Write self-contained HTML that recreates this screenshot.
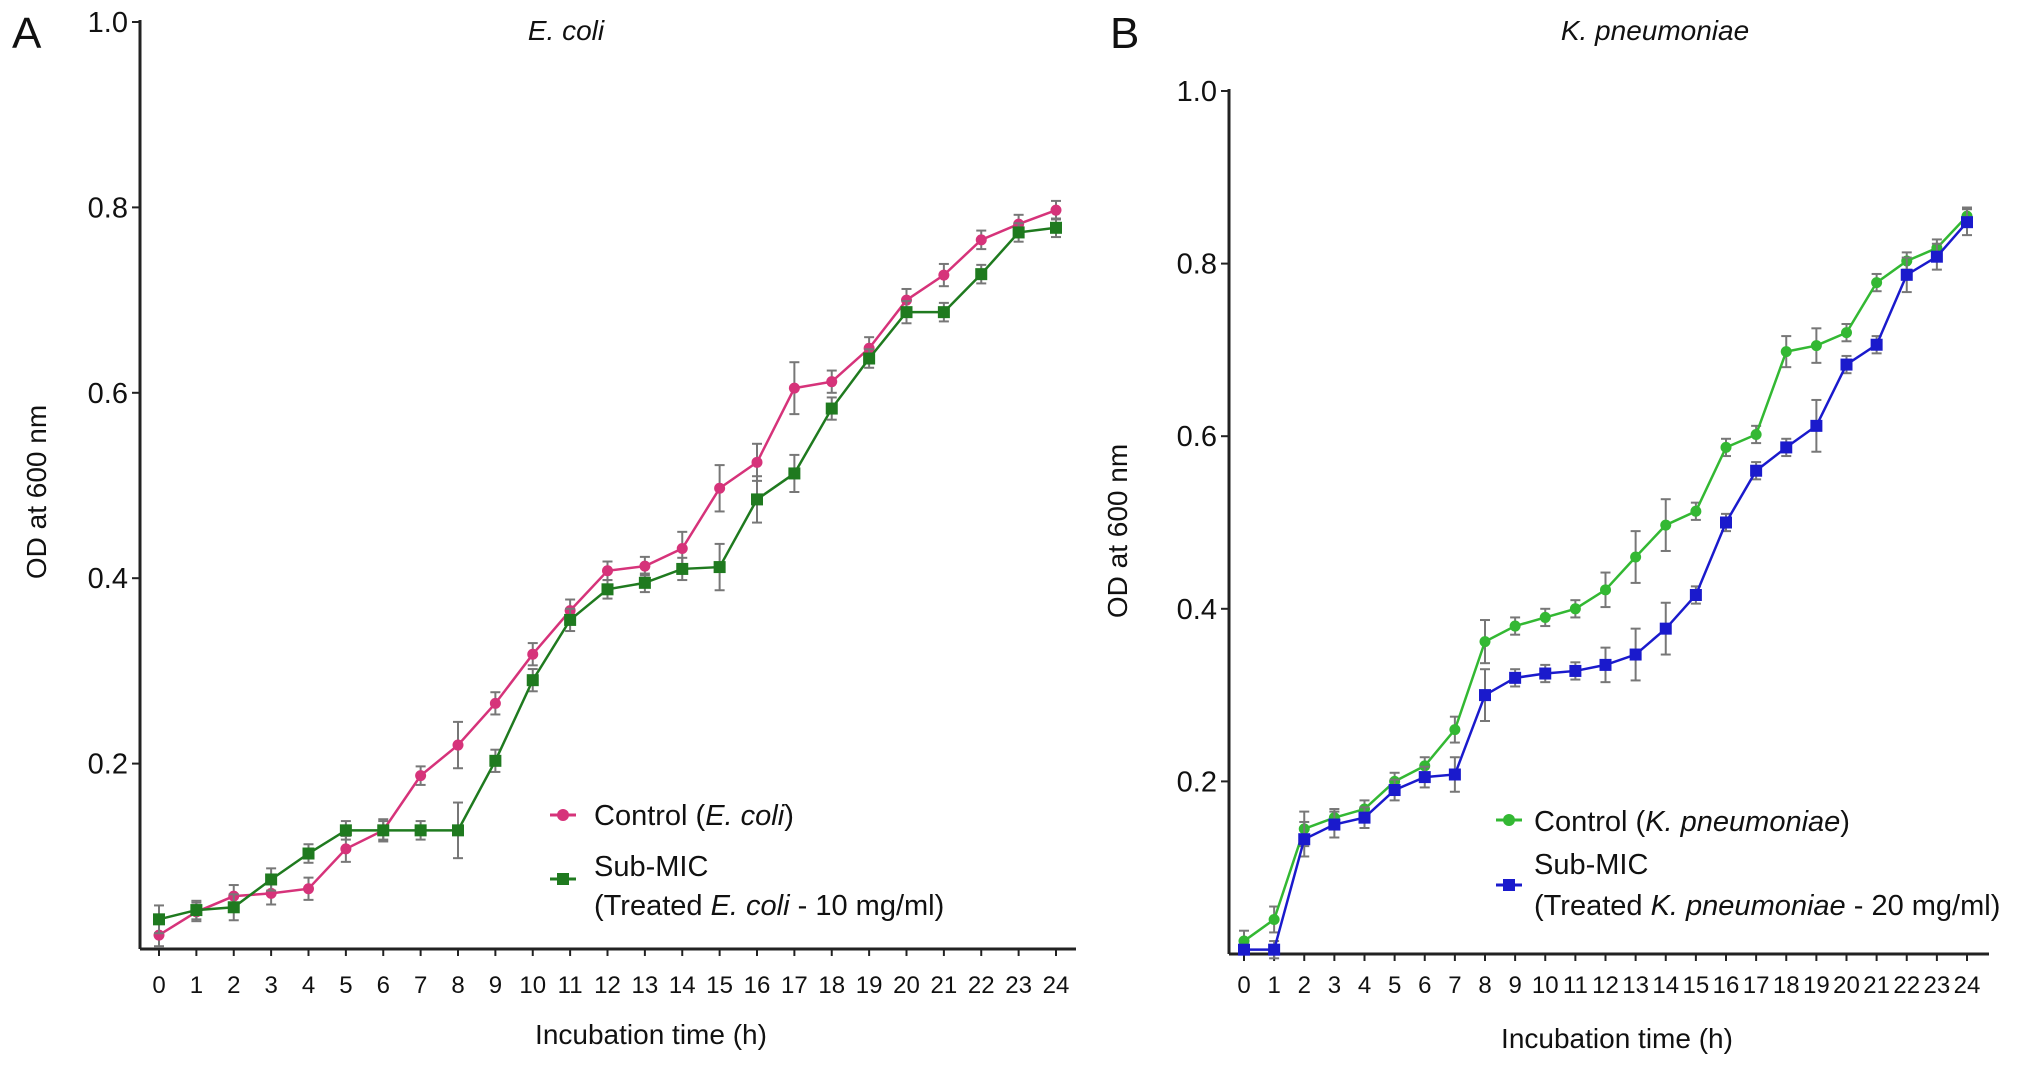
<!DOCTYPE html>
<html><head><meta charset="utf-8"><style>
html,body{margin:0;padding:0;background:#fff;}
svg{display:block;font-family:"Liberation Sans",Arial,sans-serif;}
</style></head><body>
<svg id="chart" width="2032" height="1067" viewBox="0 0 2032 1067"></svg>
<script>
const hours=[0,1,2,3,4,5,6,7,8,9,10,11,12,13,14,15,16,17,18,19,20,21,22,23,24];
const yTicks=[0.2,0.4,0.6,0.8,1.0];
const ecoliControl=[0.015,0.04,0.057,0.06,0.065,0.108,0.128,0.187,0.22,0.265,0.318,0.365,0.408,0.413,0.432,0.497,0.525,0.605,0.612,0.648,0.7,0.727,0.765,0.782,0.797];
const ecoliControlErr=[0.012,0.01,0.012,0.012,0.012,0.014,0.01,0.01,0.025,0.012,0.012,0.012,0.01,0.01,0.018,0.025,0.02,0.028,0.012,0.012,0.012,0.012,0.01,0.01,0.01];
const ecoliTreated=[0.032,0.042,0.045,0.075,0.103,0.128,0.128,0.128,0.128,0.203,0.29,0.355,0.388,0.395,0.41,0.412,0.485,0.513,0.583,0.637,0.687,0.687,0.728,0.773,0.778];
const ecoliTreatedErr=[0.015,0.01,0.014,0.012,0.01,0.01,0.012,0.01,0.03,0.012,0.012,0.012,0.01,0.01,0.012,0.025,0.025,0.02,0.012,0.01,0.012,0.01,0.01,0.01,0.01];
const kpControl=[0.015,0.04,0.145,0.158,0.168,0.2,0.218,0.26,0.362,0.38,0.39,0.4,0.422,0.46,0.497,0.513,0.587,0.602,0.698,0.705,0.72,0.778,0.803,0.818,0.855];
const kpControlErr=[0.012,0.015,0.02,0.01,0.01,0.01,0.01,0.015,0.025,0.01,0.01,0.01,0.02,0.03,0.03,0.01,0.01,0.01,0.018,0.02,0.01,0.01,0.01,0.01,0.01];
const kpTreated=[0.005,0.005,0.133,0.15,0.158,0.19,0.205,0.208,0.3,0.32,0.325,0.328,0.335,0.347,0.377,0.416,0.5,0.56,0.587,0.612,0.683,0.706,0.787,0.808,0.848];
const kpTreatedErr=[0.005,0.01,0.02,0.015,0.012,0.012,0.012,0.02,0.03,0.01,0.01,0.01,0.02,0.03,0.03,0.01,0.01,0.01,0.01,0.03,0.01,0.01,0.02,0.015,0.015];

const NS="http://www.w3.org/2000/svg";
const svg=document.getElementById('chart');
function mk(tag,attrs,parent,text){const e=document.createElementNS(NS,tag);for(const k in attrs)e.setAttribute(k,attrs[k]);if(text!==undefined)e.textContent=text;(parent||svg).appendChild(e);return e;}

function panel(p){
  const g=mk('g',{});
  
  
  const xs=h=>p.x0+(p.x24-p.x0)*h/24;
  const ys=v=>p.yb+(p.y1-p.yb)*v;
  const ya=mk('line',{x1:p.ax,y1:p.y1-2,x2:p.ax,y2:p.yb,stroke:'#222','stroke-width':3},g);
  
  const xa=mk('line',{x1:p.ax,y1:p.yb,x2:p.xend,y2:p.yb,stroke:'#222','stroke-width':3},g);
  
  yTicks.forEach(t=>{
    mk('line',{x1:p.ax-8,y1:ys(t),x2:p.ax,y2:ys(t),stroke:'#222','stroke-width':2},g);
    const tl=mk('text',{x:p.ax-12,y:ys(t)+10,'text-anchor':'end','font-size':29,fill:'#111'},g,t.toFixed(1));
    
  });
  hours.forEach(h=>{
    mk('line',{x1:xs(h),y1:p.yb,x2:xs(h),y2:p.yb+7,stroke:'#222','stroke-width':2},g);
    const tl=mk('text',{x:xs(h),y:993,'text-anchor':'middle','font-size':p.tickFs,fill:'#111'},g,String(h));
    
  });
  p.series.forEach(s=>{
    const sg=mk('g',{},g);
    
    s.vals.forEach((v,i)=>{
      const x=xs(hours[i]),e=s.err[i];
      mk('line',{x1:x,y1:ys(v-e),x2:x,y2:ys(v+e),stroke:'#777','stroke-width':2},sg);
      mk('line',{x1:x-5,y1:ys(v-e),x2:x+5,y2:ys(v-e),stroke:'#777','stroke-width':2},sg);
      mk('line',{x1:x-5,y1:ys(v+e),x2:x+5,y2:ys(v+e),stroke:'#777','stroke-width':2},sg);
    });
    mk('polyline',{points:s.vals.map((v,i)=>xs(hours[i])+','+ys(v)).join(' '),fill:'none',stroke:s.color,'stroke-width':2.5},sg);
    s.vals.forEach((v,i)=>{
      const x=xs(hours[i]),y=ys(v);
      const m=s.square?mk('rect',{x:x-6,y:y-6,width:12,height:12,fill:s.color},sg):mk('circle',{cx:x,cy:y,r:5.5,fill:s.color},sg);
      
    });
  });
  return {g,xs,ys};
}

function label(x,y,txt,opts,name){const t=mk('text',Object.assign({x:x,y:y,fill:'#111'},opts));t.innerHTML=txt;return t;}

panel({name:'panel-a-ecoli',ax:140,y1:22,yb:949,x0:159,x24:1056,xend:1076,tickFs:24,
  series:[{name:'series-ecoli-control',vals:ecoliControl,err:ecoliControlErr,color:'#d6337a'},
          {name:'series-ecoli-sub-mic',vals:ecoliTreated,err:ecoliTreatedErr,color:'#1f7a1f',square:true}]});
panel({name:'panel-b-kpneumoniae',ax:1229,y1:91,yb:954,x0:1244,x24:1967,xend:1989,tickFs:24,
  series:[{name:'series-kp-control',vals:kpControl,err:kpControlErr,color:'#33b833'},
          {name:'series-kp-sub-mic',vals:kpTreated,err:kpTreatedErr,color:'#1a1acc',square:true}]});

label(12,48,'A',{'font-size':44},'panel-a-letter');
label(1110,48,'B',{'font-size':44},'panel-b-letter');
label(566,40,'E. coli',{'font-size':28,'font-style':'italic','text-anchor':'middle'},'panel-a-title');
label(1655,40,'K. pneumoniae',{'font-size':28,'font-style':'italic','text-anchor':'middle'},'panel-b-title');
label(651,1044,'Incubation time (h)',{'font-size':28,'text-anchor':'middle'},'x-axis-title-a');
label(1617,1048,'Incubation time (h)',{'font-size':28,'text-anchor':'middle'},'x-axis-title-b');
label(0,0,'OD at 600 nm',{'font-size':28,'text-anchor':'middle',transform:'translate(46,492) rotate(-90)'},'y-axis-title-a');
label(0,0,'OD at 600 nm',{'font-size':28,'text-anchor':'middle',transform:'translate(1127,531) rotate(-90)'},'y-axis-title-b');

function legendMarker(x,y,color,square,name){
  const g=mk('g',{});
  mk('line',{x1:x-13,y1:y,x2:x+13,y2:y,stroke:color,'stroke-width':3},g);
  if(square)mk('rect',{x:x-6,y:y-6,width:12,height:12,fill:color},g);else mk('circle',{cx:x,cy:y,r:6,fill:color},g);
}
legendMarker(563,815,'#d6337a',false,'legend-marker-ecoli-control');
label(594,825,'Control (<tspan font-style="italic">E. coli</tspan>)',{'font-size':29},'legend-ecoli-control');
legendMarker(563,879,'#1f7a1f',true,'legend-marker-ecoli-sub-mic');
label(594,876,'Sub-MIC',{'font-size':29},'legend-ecoli-sub-mic');
label(594,915,'(Treated <tspan font-style="italic">E. coli</tspan> - 10 mg/ml)',{'font-size':29},'legend-ecoli-sub-mic-detail');
legendMarker(1509,820,'#33b833',false,'legend-marker-kp-control');
label(1534,831,'Control (<tspan font-style="italic">K. pneumoniae</tspan>)',{'font-size':29},'legend-kp-control');
legendMarker(1509,885,'#1a1acc',true,'legend-marker-kp-sub-mic');
label(1534,874,'Sub-MIC',{'font-size':29},'legend-kp-sub-mic');
label(1534,915,'(Treated <tspan font-style="italic">K. pneumoniae</tspan> - 20 mg/ml)',{'font-size':29},'legend-kp-sub-mic-detail');
</script>
</body></html>
